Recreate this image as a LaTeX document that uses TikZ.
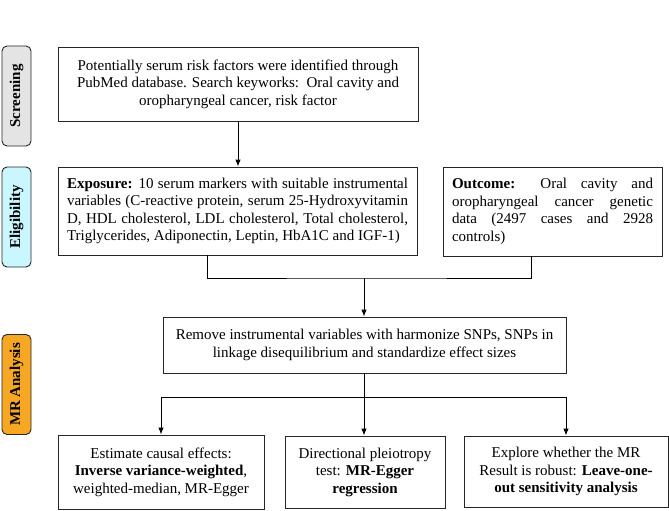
\documentclass[tikz,border=0pt]{standalone}
\usepackage{fontspec}
\setmainfont{Liberation Serif}
\usetikzlibrary{arrows.meta}
\definecolor{scrgray}{RGB}{228,228,228}
\definecolor{elicyan}{RGB}{202,247,255}
\definecolor{mrorange}{RGB}{246,167,35}
\tikzset{
  box/.style={draw=black!85, line width=0.9pt, font=\fontsize{15}{17.5}\selectfont, inner sep=0pt, align=center},
  jbox/.style={draw=black!85, line width=0.9pt, font=\fontsize{15}{17.5}\selectfont, inner xsep=9pt, inner ysep=0pt, align=justify},
  sidelab/.style={draw=black!85, line width=0.9pt, rounded corners=5pt, rotate=90, font=\fontsize{15}{17}\selectfont\bfseries, minimum width=100pt, minimum height=29pt, inner sep=0pt},
  conn/.style={line width=0.9pt, draw=black},
  arr/.style={conn, -{Latex[length=7pt,width=5.5pt]}}
}
\begin{document}
\begin{tikzpicture}[x=1pt,y=-1pt]
\useasboundingbox (0,0) rectangle (669,511);
% side labels
\node[sidelab, fill=scrgray] (lscr) at (16.5,96) {Screening};
\node[sidelab, fill=elicyan] (leli) at (16.5,217) {Eligibility};
\node[sidelab, fill=mrorange] (lmr) at (16.5,384.5) {MR Analysis};
% boxes
\node[box, minimum width=360pt, minimum height=74pt] (scr) at (238,84)
  {Potentially serum risk factors were identified through\\
   PubMed database. Search keyworks:\ \ Oral cavity and\\
   oropharyngeal cancer, risk factor};
\node[jbox, text width=341pt, minimum height=88pt] (exp) at (237.5,211)
  {\textbf{Exposure:} 10 serum markers with suitable instrumental\linebreak
   variables (C-reactive protein, serum 25-Hydroxyvitamin\linebreak
   D, HDL cholesterol, LDL cholesterol, Total cholesterol,\linebreak
   Triglycerides, Adiponectin, Leptin, HbA1C and IGF-1)};
\node[jbox, text width=201pt, minimum height=89pt] (out) at (552.5,211.5)
  {\textbf{Outcome:} Oral cavity and\linebreak
   oropharyngeal cancer genetic\linebreak
   data (2497 cases and 2928\linebreak
   controls)};
\node[box, minimum width=403pt, minimum height=56pt] (rem) at (364.5,345)
  {Remove instrumental variables with harmonize SNPs, SNPs in\\
   linkage disequilibrium and standardize effect sizes};
\node[box, minimum width=206pt, minimum height=74pt] (b1) at (161,472)
  {Estimate causal effects:\\
   \textbf{Inverse variance-weighted},\\
   weighted-median, MR-Egger};
\node[box, minimum width=160pt, minimum height=72pt] (b2) at (365,472)
  {Directional pleiotropy\\
   test: \textbf{MR-Egger}\\
   \textbf{regression}};
\node[box, minimum width=204pt, minimum height=71pt] (b3) at (566,471.5)
  {Explore whether the MR\\
   Result is robust: \textbf{Leave-one-}\\
   \textbf{out sensitivity analysis}};
% connectors
\coordinate (j1) at (364,278);
\coordinate (j2) at (364,397);
\draw[arr] (scr.south) -- (exp.north -| scr.south);
\draw[conn] (exp.south -| 207,0) |- (j1) -| (out.south -| 531,0);
\draw[arr] (j1) -- (rem.north -| j1);
\draw[conn] (rem.south -| j2) -- (j2);
\draw[arr] (j2) -- (b2.north -| j2);
\draw[arr] (j2) -| (b1.north);
\draw[arr] (j2) -| (b3.north);
\end{tikzpicture}
\end{document}
